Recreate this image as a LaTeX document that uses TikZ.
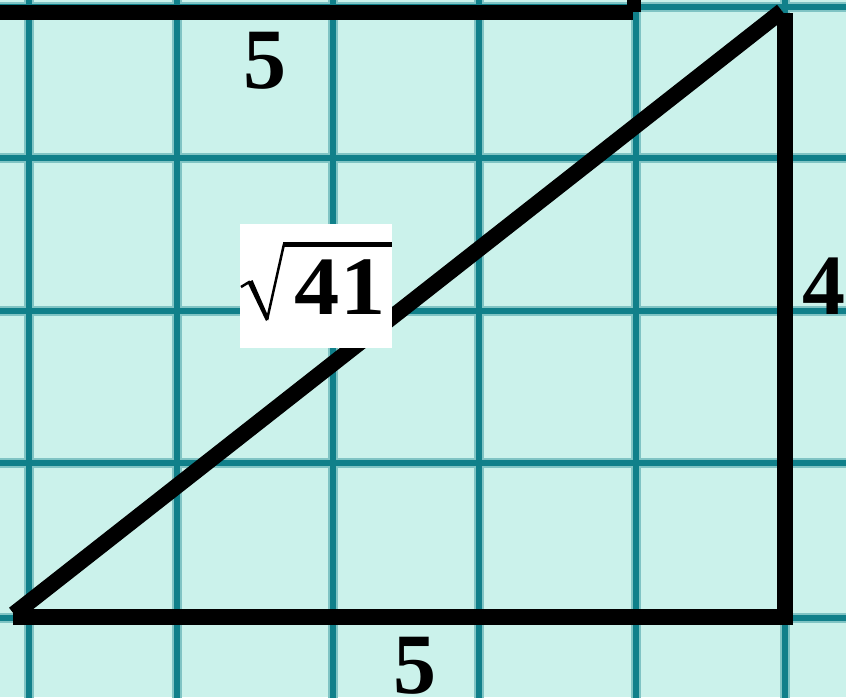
\documentclass[tikz,border=0pt]{standalone}
\usepackage{fontspec}
\setmainfont{Liberation Serif}
\definecolor{bgmint}{HTML}{CBF2EB}
\definecolor{gridteal}{HTML}{10808A}
\begin{document}
\begin{tikzpicture}[x=1pt,y=-1pt,
  gridcore/.style={draw=gridteal, line width=5.5pt},
  gridglow/.style={draw=gridteal!40!bgmint, line width=10pt},
  side/.style={draw=black, line width=16pt},
  lbl/.style={font=\fontsize{86}{86}\selectfont\bfseries, inner sep=0pt, anchor=base},
  rootstroke/.style={draw=black, line cap=butt}]
\fill[bgmint] (0,0) rectangle (846,697);
\useasboundingbox (0,0) rectangle (846,697);
% grid
\foreach \x in {29,177,333,479,636,785} {\draw[gridglow] (\x,-5) -- (\x,702);}
\foreach \y in {7,158,311,463,618} {\draw[gridglow] (-5,\y) -- (851,\y);}
\foreach \x in {29,177,333,479,636,785} {\draw[gridcore] (\x,-5) -- (\x,702);}
\foreach \y in {7,158,311,463,618} {\draw[gridcore] (-5,\y) -- (851,\y);}
% top rectangle (cut off)
\coordinate (R0) at (-10,12.5);
\coordinate (R1) at (633,12.5);
\coordinate (R2) at (634,-10);
\coordinate (R3) at (634,12);
\draw[side, line width=15pt] (R0) -- (R1);
\draw[side, line width=14pt] (R2) -- (R3);
% triangle
\coordinate (A) at (13,617);
\coordinate (B) at (784.5,617);
\coordinate (C) at (784.5,13);
\coordinate (Ah) at (14,614);
\coordinate (Ch) at (782,11);
\draw[side, line join=miter] (A) -- (B) -- (C);
\draw[side] (Ah) -- (Ch);
% labels
\node[lbl] (top5) at (264.5,88) {5};
\node[lbl] (bot5) at (414.5,693) {5};
\node[lbl] (four) at (823.5,314) {4};
% sqrt 41 label
\node[fill=white, minimum width=152pt, minimum height=124pt, inner sep=0pt] (rootbox) at (316,286) {};
\node[font=\fontsize{83}{83}\selectfont\bfseries, inner sep=0pt, anchor=base, xscale=1.09] (rootnum) at (340,314) {41};
\coordinate (s1) at (241,287);
\coordinate (s2) at (250,281.5);
\coordinate (s3) at (267,320);
\coordinate (s4) at (284,244);
\coordinate (s5) at (392,244);
\draw[rootstroke, line width=2.5pt] (s1) -- (s2);
\fill[black] (247.5,282.5) -- (252.5,280) -- (269,318) -- (266,321) -- cycle;
\draw[rootstroke, line width=2.5pt] (s3) -- (s4);
\draw[draw=black, line width=5pt] ([xshift=-1pt]s4) -- (s5);
\end{tikzpicture}
\end{document}
